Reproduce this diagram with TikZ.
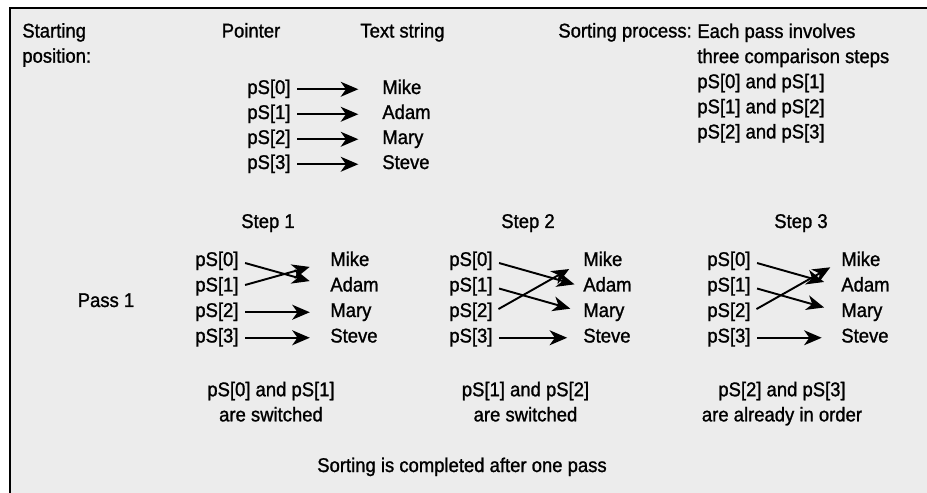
\documentclass[tikz,border=0pt]{standalone}
\usepackage{fontspec}
\setmainfont{Liberation Sans}[FakeStretch=0.93, FakeBold=1.2]
\usetikzlibrary{arrows.meta}
\definecolor{bggray}{RGB}{236,236,236}

\begin{document}
\begin{tikzpicture}[x=0.02cm, y=-0.02cm, every node/.style={font=\fontsize{11.3}{14.3}\selectfont, inner sep=0pt},
  ptr/.style={anchor=base west, text height=0.75em, text depth=0.21em},
  arr/.style={-{Stealth[length=10pt, width=8.5pt, inset=3pt]}, line width=1.1pt, shorten <=3.7pt}]
% Frame
\useasboundingbox (0,0) rectangle (927,493);
\fill[bggray] (10,8) rectangle (927,493);
\draw[line width=1.2pt] (10,493) -- (10,8) -- (927,8);
% Headings
\node[anchor=north west, align=left] (start) at (22,22.8) {Starting\\position:};
\node[anchor=base] (ptrhead) at (251,37.5) {Pointer};
\node[anchor=base] (strhead) at (402.5,37.5) {Text string};
\node[anchor=base west] (sortlbl) at (558,37.5) {Sorting process:};
\node[anchor=north west, align=left] (steps) at (697,23.2) {Each pass involves\\three comparison steps\\pS[0] and pS[1]\\pS[1] and pS[2]\\pS[2] and pS[3]};
% Starting position
\node[ptr] (p0) at (247,94) {pS[0]};
\node[ptr] (p1) at (247,119) {pS[1]};
\node[ptr] (p2) at (247,144) {pS[2]};
\node[ptr] (p3) at (247,169) {pS[3]};
\node[ptr] (w0) at (382,94) {Mike};
\node[ptr] (w1) at (382,119) {Adam};
\node[ptr] (w2) at (382,144) {Mary};
\node[ptr] (w3) at (382,169) {Steve};
\draw[arr, shorten >=13.5pt] (p0.east) -- (w0.west);
\draw[arr, shorten >=13.5pt] (p1.east) -- (w1.west);
\draw[arr, shorten >=13.5pt] (p2.east) -- (w2.west);
\draw[arr, shorten >=13.5pt] (p3.east) -- (w3.west);
% Pass 1
\node[anchor=base] (pass1) at (106,307) {Pass 1};
% Step 1
\node[anchor=base] (step1) at (268,228) {Step 1};
\node[ptr] (pa0) at (195,266) {pS[0]};
\node[ptr] (pa1) at (195,291.5) {pS[1]};
\node[ptr] (pa2) at (195,317) {pS[2]};
\node[ptr] (pa3) at (195,342.5) {pS[3]};
\node[ptr] (wa0) at (330,266) {Mike};
\node[ptr] (wa1) at (330,291.5) {Adam};
\node[ptr] (wa2) at (330,317) {Mary};
\node[ptr] (wa3) at (330,342.5) {Steve};
\draw[arr, shorten >=12pt] (pa0.east) -- (wa1.west);
\draw[arr, shorten >=12pt] (pa1.east) -- (wa0.west);
\draw[arr, shorten >=11.5pt] (pa2.east) -- (wa2.west);
\draw[arr, shorten >=11.5pt] (pa3.east) -- (wa3.west);
\node[anchor=north, align=center] (cap1) at (271,381.5) {pS[0] and pS[1]\\are switched};
% Step 2
\node[anchor=base] (step2) at (528,228) {Step 2};
\node[ptr] (pb0) at (449,266) {pS[0]};
\node[ptr] (pb1) at (449,291.5) {pS[1]};
\node[ptr] (pb2) at (449,317) {pS[2]};
\node[ptr] (pb3) at (449,342.5) {pS[3]};
\node[ptr] (wb0) at (583,266) {Mike};
\node[ptr] (wb1) at (583,291.5) {Adam};
\node[ptr] (wb2) at (583,317) {Mary};
\node[ptr] (wb3) at (583,342.5) {Steve};
\draw[arr, shorten >=5pt] (pb0.east) -- (wb1.west);
\draw[arr, shorten >=7.5pt] (pb1.east) -- (wb2.west);
\draw[arr, shorten >=9pt] (pb2.east) -- (wb0.west);
\draw[arr, shorten >=9pt] (pb3.east) -- (wb3.west);
\node[anchor=north, align=center] (cap2) at (525.5,381.5) {pS[1] and pS[2]\\are switched};
% Step 3
\node[anchor=base] (step3) at (801,228) {Step 3};
\node[ptr] (pc0) at (707,266) {pS[0]};
\node[ptr] (pc1) at (707,291.5) {pS[1]};
\node[ptr] (pc2) at (707,317) {pS[2]};
\node[ptr] (pc3) at (707,342.5) {pS[3]};
\node[ptr] (wc0) at (841,266) {Mike};
\node[ptr] (wc1) at (841,291.5) {Adam};
\node[ptr] (wc2) at (841,317) {Mary};
\node[ptr] (wc3) at (841,342.5) {Steve};
\draw[arr, shorten >=10pt] (pc0.east) -- (wc1.west);
\draw[arr, shorten >=10pt] (pc1.east) -- (wc2.west);
\draw[arr, shorten >=7pt] (pc2.east) -- (wc0.west);
\draw[arr, shorten >=11pt] (pc3.east) -- (wc3.west);
\node[anchor=north, align=center] (cap3) at (782,381.5) {pS[2] and pS[3]\\are already in order};
% Result
\node[anchor=base] (done) at (462,472) {Sorting is completed after one pass};
\end{tikzpicture}
\end{document}
